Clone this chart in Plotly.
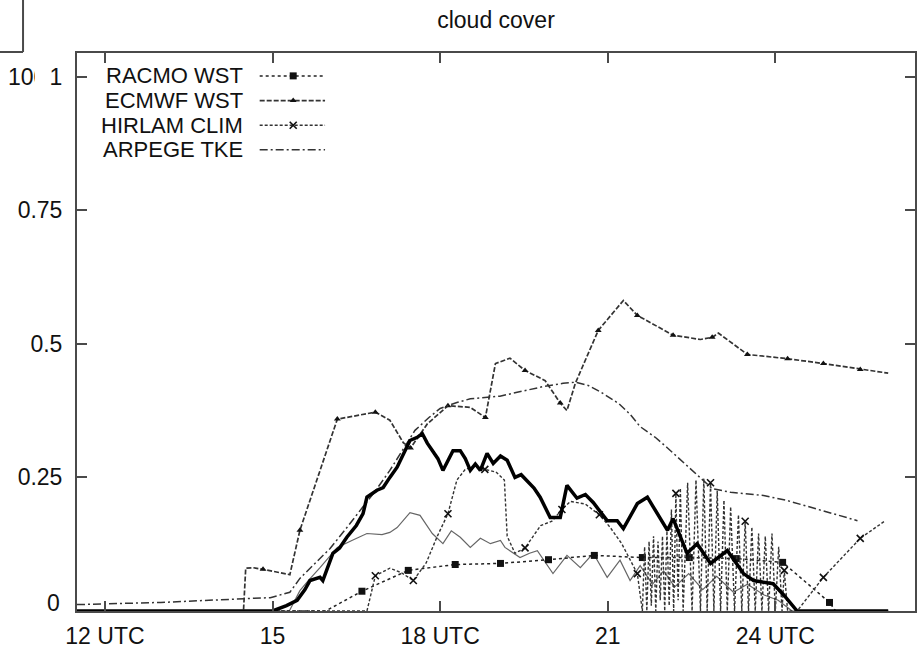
import plotly.graph_objects as go

# Cloud cover (fraction) against time (hours UTC; 24-26 = next day 00-02 UTC)

# RACMO WST
racmo = [(11.5, 0.0), (15.95, 0.0), (16.6, 0.037), (17.43, 0.076), (18.27, 0.087),
         (19.08, 0.089), (19.94, 0.096), (20.76, 0.104), (21.62, 0.1), (22.46, 0.1),
         (23.3, 0.098), (24.13, 0.091), (24.97, 0.016), (25.08, 0.0), (26.02, 0.0)]
racmo_marks = [16.6, 17.43, 18.27, 19.08, 19.94, 20.76, 21.62, 22.46, 23.3, 24.13, 24.97]

# ECMWF WST
ecmwf = [(11.5, 0.0), (14.48, 0.0), (14.52, 0.08), (14.65, 0.081), (14.83, 0.078),
         (15.31, 0.068), (15.49, 0.151), (15.85, 0.263), (16.16, 0.359), (16.84, 0.372),
         (17.1, 0.357), (17.34, 0.315), (17.47, 0.305), (17.77, 0.35), (18.14, 0.384),
         (18.54, 0.381), (18.81, 0.362), (18.99, 0.463), (19.25, 0.473), (19.52, 0.45),
         (19.88, 0.431), (20.15, 0.389), (20.27, 0.375), (20.42, 0.426), (20.83, 0.525),
         (21.28, 0.581), (21.53, 0.553), (22.17, 0.516), (22.66, 0.508), (22.87, 0.512),
         (22.98, 0.52), (23.5, 0.48), (24.22, 0.472), (24.86, 0.463), (25.52, 0.452),
         (26.02, 0.445)]
ecmwf_marks = [14.83, 15.49, 16.16, 16.84, 17.47, 18.14, 18.81, 19.52, 20.15, 20.83,
               21.53, 22.17, 22.87, 23.5, 24.22, 24.86, 25.52]

# HIRLAM CLIM (flip-flops between clear and cloudy late in the evening)
hirlam = [(11.5, 0.0), (16.69, 0.0), (16.84, 0.066), (17.1, 0.08), (17.3, 0.072),
          (17.52, 0.057), (17.75, 0.09), (17.95, 0.14), (18.14, 0.182), (18.3, 0.245),
          (18.45, 0.265), (18.6, 0.27), (18.8, 0.265), (19.0, 0.26), (19.15, 0.245),
          (19.2, 0.14), (19.34, 0.108), (19.52, 0.118), (19.8, 0.16), (20.0, 0.168),
          (20.18, 0.19), (20.33, 0.205), (20.6, 0.2), (20.85, 0.18), (21.04, 0.157),
          (21.25, 0.126), (21.53, 0.07), (21.62, 0.0),
          (21.66, 0.12), (21.7, 0.0), (21.74, 0.13), (21.78, 0.01), (21.82, 0.14),
          (21.86, 0.0), (21.9, 0.13), (21.94, 0.02), (21.98, 0.14), (22.02, 0.0),
          (22.06, 0.15), (22.1, 0.01), (22.14, 0.19), (22.18, 0.0), (22.22, 0.22),
          (22.26, 0.02), (22.3, 0.23), (22.35, 0.0), (22.43, 0.24), (22.51, 0.0),
          (22.58, 0.245), (22.66, 0.0), (22.72, 0.248), (22.78, 0.0), (22.84, 0.24),
          (22.9, 0.0), (22.96, 0.225), (23.02, 0.0), (23.08, 0.207), (23.14, 0.0),
          (23.2, 0.195), (23.27, 0.0), (23.34, 0.18), (23.4, 0.0), (23.46, 0.168),
          (23.52, 0.0), (23.58, 0.157), (23.64, 0.0), (23.7, 0.145), (23.76, 0.0),
          (23.82, 0.14), (23.88, 0.0), (23.94, 0.145), (24.0, 0.0), (24.06, 0.12),
          (24.12, 0.0), (24.16, 0.076), (24.22, 0.0), (24.39, 0.0), (24.86, 0.063),
          (25.52, 0.136), (25.97, 0.169)]
hirlam_marks = [16.84, 17.52, 18.14, 18.8, 19.52, 20.18, 20.85, 21.53, 22.22, 22.84,
                23.46, 24.16, 24.86, 25.52]

# ARPEGE TKE
arpege = [(11.5, 0.012), (13.0, 0.016), (14.5, 0.023), (14.96, 0.025), (15.31, 0.035),
          (15.49, 0.061), (15.75, 0.088), (16.03, 0.117), (16.3, 0.152), (16.57, 0.188),
          (16.85, 0.226), (17.1, 0.263), (17.35, 0.305), (17.55, 0.338), (17.8, 0.362),
          (18.0, 0.379), (18.3, 0.39), (18.54, 0.397), (19.07, 0.402), (19.5, 0.412),
          (19.85, 0.42), (20.2, 0.426), (20.42, 0.428), (20.65, 0.422), (20.87, 0.41),
          (21.2, 0.388), (21.4, 0.368), (21.58, 0.345), (21.85, 0.325), (22.07, 0.305),
          (22.35, 0.278), (22.66, 0.25), (22.87, 0.229), (23.2, 0.222), (23.79, 0.216),
          (24.2, 0.207), (24.63, 0.194), (25.05, 0.181), (25.47, 0.169)]

# observed cloud cover (thick) and second observation record (thin)
observed = [(11.5, 0.0), (15.0, 0.0), (15.25, 0.01), (15.44, 0.02), (15.58, 0.04),
            (15.67, 0.057), (15.85, 0.063), (15.9, 0.057), (16.08, 0.108), (16.2, 0.118),
            (16.33, 0.138), (16.5, 0.16), (16.62, 0.182), (16.69, 0.213), (16.87, 0.226),
            (16.98, 0.231), (17.1, 0.25), (17.23, 0.269), (17.35, 0.295), (17.46, 0.319),
            (17.59, 0.325), (17.68, 0.332), (17.77, 0.314), (17.87, 0.3), (17.96, 0.285),
            (18.05, 0.263), (18.14, 0.28), (18.23, 0.3), (18.36, 0.3), (18.45, 0.285),
            (18.54, 0.263), (18.63, 0.275), (18.72, 0.263), (18.84, 0.295), (18.95, 0.276),
            (19.08, 0.29), (19.2, 0.282), (19.34, 0.25), (19.45, 0.255), (19.56, 0.244),
            (19.68, 0.23), (19.79, 0.213), (19.97, 0.175), (20.15, 0.175), (20.27, 0.235),
            (20.45, 0.211), (20.6, 0.218), (20.74, 0.203), (20.99, 0.169), (21.17, 0.169),
            (21.28, 0.154), (21.53, 0.201), (21.71, 0.213), (21.82, 0.194), (22.07, 0.151),
            (22.17, 0.173), (22.42, 0.108), (22.6, 0.126), (22.84, 0.089), (23.14, 0.113),
            (23.43, 0.07), (23.61, 0.057), (23.96, 0.051), (24.15, 0.03), (24.39, 0.0),
            (26.02, 0.0)]
observed_2 = [(11.5, 0.0), (15.3, 0.0), (15.49, 0.038), (15.64, 0.057), (15.85, 0.081),
              (16.0, 0.1), (16.16, 0.119), (16.42, 0.132), (16.69, 0.145), (16.96, 0.143),
              (17.1, 0.147), (17.23, 0.156), (17.46, 0.184), (17.64, 0.179), (17.86, 0.145),
              (18.05, 0.126), (18.2, 0.15), (18.36, 0.138), (18.54, 0.119), (18.72, 0.136),
              (18.9, 0.126), (19.08, 0.132), (19.16, 0.119), (19.43, 0.1), (19.6, 0.108),
              (19.74, 0.113), (20.02, 0.07), (20.27, 0.104), (20.51, 0.081), (20.74, 0.108),
              (20.99, 0.063), (21.22, 0.095), (21.4, 0.057), (21.58, 0.085), (21.8, 0.05),
              (22.0, 0.075), (22.2, 0.045), (22.45, 0.07), (22.7, 0.04), (22.95, 0.065),
              (23.25, 0.035), (23.5, 0.05), (23.8, 0.03), (24.05, 0.02), (24.3, 0.0),
              (26.02, 0.0)]

x_tick_hours = [12, 15, 18, 21, 24]
x_tick_text = ["12 UTC", "15", "18 UTC", "21", "24 UTC"]
y_tick_vals = [0, 0.25, 0.5, 0.75, 1]
y_tick_text = ["", "0.25", "0.5", "0.75", "1"]

FONT = "Liberation Sans, Arial, sans-serif"
INK = "#111111"
FRAME = "#4a4a4a"
TXT = 23
KEY_TXT = 22

models = [
    dict(name="RACMO WST", data=racmo, marks=racmo_marks,
         line=dict(color="#222", width=1.5, dash="3px,3px"),
         marker=dict(symbol="square", size=7, color="#111")),
    dict(name="ECMWF WST", data=ecmwf, marks=ecmwf_marks,
         line=dict(color="#333", width=1.7, dash="5px,2px"),
         marker=dict(symbol="triangle-up", size=6, color="#111")),
    dict(name="HIRLAM CLIM", data=hirlam, marks=hirlam_marks,
         line=dict(color="#333", width=1.4, dash="3px,2px"),
         marker=dict(symbol="x-thin", size=7, color="#111",
                     line=dict(width=1.6, color="#111"))),
    dict(name="ARPEGE TKE", data=arpege, marks=[],
         line=dict(color="#333", width=1.5, dash="8px,3px,2px,3px"),
         marker=None),
]


def split(pairs):
    return [p[0] for p in pairs], [p[1] for p in pairs]


fig = go.Figure()

# observations
h, v = split(observed_2)
fig.add_trace(go.Scatter(x=h, y=v, mode="lines", showlegend=False,
                         line=dict(color="#666", width=1.2)))

for m in models:
    h, v = split(m["data"])
    fig.add_trace(go.Scatter(x=h, y=v, mode="lines", showlegend=False,
                             line=m["line"]))
    if m["marks"]:
        lookup = dict(m["data"])
        fig.add_trace(go.Scatter(x=m["marks"], y=[lookup[t] for t in m["marks"]],
                                 mode="markers", showlegend=False,
                                 marker=m["marker"]))

h, v = split(observed)
fig.add_trace(go.Scatter(x=h, y=v, mode="lines", showlegend=False,
                         line=dict(color="#000", width=3.5)))

# key, drawn in the upper left corner of the plot (text left of the line sample)
key_top, key_step = 0.959, 0.0442
key_x0, key_x1, key_mid, key_text_x = 0.218, 0.296, 0.258, 0.199
annotations = []
for i, m in enumerate(models):
    ky = key_top - i * key_step
    fig.add_trace(go.Scatter(x=[key_x0, key_x1], y=[ky, ky], mode="lines",
                             xaxis="x2", yaxis="y2", showlegend=False,
                             line=m["line"], hoverinfo="skip"))
    if m["marker"] is not None:
        fig.add_trace(go.Scatter(x=[key_mid], y=[ky], mode="markers",
                                 xaxis="x2", yaxis="y2", showlegend=False,
                                 marker=m["marker"], hoverinfo="skip"))
    annotations.append(dict(text=m["name"], xref="paper", yref="paper",
                            x=key_text_x, y=ky, xanchor="right", yanchor="middle",
                            borderpad=0, showarrow=False,
                            font=dict(family=FONT, size=KEY_TXT, color=INK)))

# y = 0 label sits a little above its tick
annotations.append(dict(text="0", xref="paper", yref="y", x=-0.018, y=0,
                        xanchor="right", yanchor="middle", yshift=8, showarrow=False,
                        font=dict(family=FONT, size=TXT, color=INK)))
# neighbouring panel's axis label, cut by the page edge
annotations.append(dict(text="100", xref="paper", yref="y", x=-0.0845, y=1,
                        xanchor="left", yanchor="middle", width=27, align="left",
                        showarrow=False, font=dict(family=FONT, size=TXT, color=INK)))

shapes = [
    dict(type="line", xref="paper", yref="paper", x0=-0.0925, x1=-0.0644,
         y0=1.0018, y1=1.0018, line=dict(color=FRAME, width=2)),
    dict(type="line", xref="paper", yref="paper", x0=-0.0644, x1=-0.0644,
         y0=1.0018, y1=1.1, line=dict(color=FRAME, width=2)),
]

axis_common = dict(showline=True, linecolor=FRAME, linewidth=2, mirror="ticks",
                   ticks="inside", ticklen=10, tickwidth=1.5, tickcolor=FRAME,
                   showgrid=False, zeroline=False,
                   tickfont=dict(family=FONT, size=TXT, color=INK))

fig.update_layout(
    width=923, height=648,
    margin=dict(l=77, r=8, t=53, b=37),
    paper_bgcolor="white", plot_bgcolor="white",
    template="none",
    showlegend=False,
    title=dict(text="cloud cover", x=0.5, xref="paper", xanchor="center",
               y=1 - 20 / 648, yref="container", yanchor="middle",
               font=dict(family=FONT, size=23, color=INK)),
    xaxis=dict(range=[11.5, 26.5], tickvals=x_tick_hours, ticktext=x_tick_text,
               ticklabelstandoff=3, automargin=False, **axis_common),
    yaxis=dict(range=[0, 1.044], tickvals=y_tick_vals, ticktext=y_tick_text,
               ticklabelstandoff=8, automargin=False, **axis_common),
    xaxis2=dict(overlaying="x", range=[0, 1], visible=False, anchor="y2"),
    yaxis2=dict(overlaying="y", range=[0, 1], visible=False, anchor="x2"),
    annotations=annotations,
    shapes=shapes,
)

fig.write_html("out.html")
